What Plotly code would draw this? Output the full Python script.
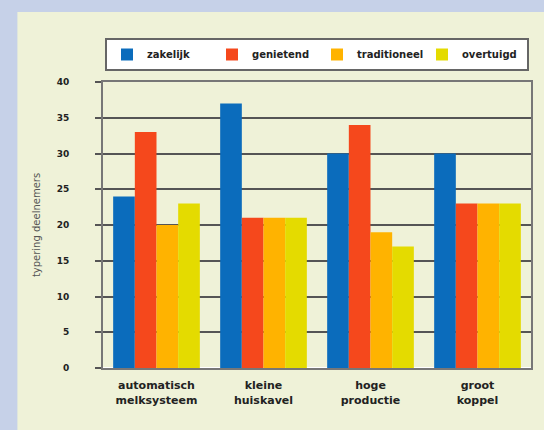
import plotly.graph_objects as go

categories = ["automatisch<br>melksysteem", "kleine<br>huiskavel", "hoge<br>productie", "groot<br>koppel"]
series_names = ["zakelijk", "genietend", "traditioneel", "overtuigd"]
zakelijk = [24, 37, 30, 30]
genietend = [33, 21, 34, 23]
traditioneel = [20, 21, 19, 23]
overtuigd = [23, 21, 17, 23]
y_ticks = [0, 5, 10, 15, 20, 25, 30, 35, 40]
colors = ["#0b6cbc", "#f5481c", "#ffb300", "#e4db00"]

W, H = 544, 430
L, R, T, B = 103, 11, 82, 62
pw, ph = W - L - R, H - T - B

fig = go.Figure()
for name, vals, c in zip(series_names, [zakelijk, genietend, traditioneel, overtuigd], colors):
    fig.add_trace(go.Bar(x=categories, y=vals, name=name, marker=dict(color=c, line=dict(width=0))))

def px(x):
    return (x - L) / pw

def py(y):
    return (H - B - y) / ph

fig.add_shape(type="rect", xref="paper", yref="paper", x0=px(17), x1=px(560), y0=py(440), y1=py(12),
              fillcolor="#eff2d8", line=dict(width=0), layer="below")

fam = "DejaVu Sans, Liberation Sans, sans-serif"
tick_font = dict(family=fam, size=9, color="#222222", weight="bold")
x_font = dict(family=fam, size=11, color="#222222", weight="bold")
leg_font = dict(family=fam, size=10, color="#222222", weight="bold")

fig.update_layout(
    width=W, height=H,
    margin=dict(l=L, r=R, t=T, b=B),
    paper_bgcolor="#c6d1e8",
    plot_bgcolor="#ffffff",
    barmode="group", bargap=0.19, bargroupgap=0,
    font=tick_font,
    showlegend=True,
    legend=dict(orientation="h", x=px(105), y=py(38), xanchor="left", yanchor="top",
                bgcolor="#ffffff", bordercolor="#666666", borderwidth=2,
                font=leg_font, entrywidth=60, itemwidth=30, tracegroupgap=0),
    xaxis=dict(showgrid=False, showline=True, linecolor="#777777", linewidth=2, mirror=True,
               tickfont=x_font, ticks="", ticklabelstandoff=6),
    yaxis=dict(range=[0, 40], tickvals=y_ticks, showgrid=True, gridcolor="#555555", gridwidth=1.5,
               showline=True, linecolor="#777777", linewidth=2, mirror=True,
               ticks="outside", ticklen=6, tickcolor="#555555", tickwidth=1.5,
               ticklabelstandoff=24, tickfont=tick_font,
               title=dict(text="typering deelnemers", standoff=14,
                          font=dict(family=fam, size=10, color="#555555", weight="normal"))),
)

fig.write_html("out.html", config={"displayModeBar": False},
               post_script="document.body.style.margin='0';document.body.style.overflow='hidden';")
